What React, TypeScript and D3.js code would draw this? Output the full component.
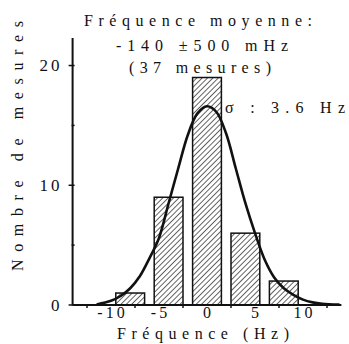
import React from "react";
import * as d3 from "d3";

const binCenters = [-8, -4, 0, 4, 8];
const counts = [1, 9, 19, 6, 2];
const binWidth = 3;

const fitX = [-11.5, -10, -9, -8, -7, -6, -5, -4, -3, -2, -1, 0, 1, 2, 3, 4, 5, 6, 7, 8, 9, 10, 11, 12, 13.8];
const fitY = [0.05, 0.35, 0.75, 1.4, 2.4, 3.9, 5.6, 8.5, 11.4, 14.2, 16.0, 16.6, 16.1, 14.3, 11.4, 8.5, 6.0, 3.8, 2.3, 1.4, 0.85, 0.45, 0.22, 0.1, 0.03];

const yTicks = [0, 10, 20];
const yMinor = [5, 15];
const xTickLabels = ["-10", "-5", "0", "5", "10"];
const xTickValues = [-10, -5, 0, 5, 10];
const xMinor = [-12.5, -7.5, -2.5, 2.5, 7.5, 12.5];

const titleLines = ["Fréquence moyenne:", "-140 ±500 mHz", "(37 mesures)"];
const sigmaLabel = "σ : 3.6 Hz";
const yTitle = "Nombre de mesures";
const xTitle = "Fréquence (Hz)";

export default function App() {
  const W = 349, H = 344;
  const x = d3.scaleLinear().domain([-14, 14]).range([72.6, 341.4]);
  const y = d3.scaleLinear().domain([0, 22.3]).range([305, 38]);
  const line = d3
    .line<number>()
    .x((_, i) => x(fitX[i]))
    .y((d) => y(d))
    .curve(d3.curveCatmullRom);
  const font = "'Liberation Serif', 'Times New Roman', serif";
  const titleCx = [198, 202, 200];
  const titleLen = [228, 172, 142];
  const titleY = [26, 51, 73];
  return (
    <svg width={W} height={H} style={{ position: "absolute", left: 0, top: 0, background: "#fff" }} fontFamily={font} fill="#111">
      <defs>
        <pattern id="hatch" patternUnits="userSpaceOnUse" width={3.8} height={3.8} patternTransform="rotate(45)">
          <line x1={0} y1={0} x2={0} y2={3.8} stroke="#111" strokeWidth={1.3} />
        </pattern>
      </defs>
      <rect x={0} y={0} width={W} height={H} fill="#fff" />
      {binCenters.map((c, i) => (
        <rect
          key={i}
          x={x(c - binWidth / 2)}
          y={y(counts[i])}
          width={x(c + binWidth / 2) - x(c - binWidth / 2)}
          height={y(0) - y(counts[i])}
          fill="url(#hatch)"
          stroke="#111"
          strokeWidth={1.5}
        />
      ))}
      <path d={line(fitY) || ""} fill="none" stroke="#111" strokeWidth={2.6} />
      <line x1={x(-14)} x2={x(-14)} y1={y(22.3)} y2={y(0)} stroke="#111" strokeWidth={2} />
      <line x1={x(-14)} x2={x(14)} y1={y(0)} y2={y(0)} stroke="#111" strokeWidth={2} />
      {yTicks.map((t) => (
        <g key={t}>
          <line x1={x(-14) - 4} x2={x(-14) + 2} y1={y(t)} y2={y(t)} stroke="#111" strokeWidth={1.5} />
          <text x={x(-14) - 10} y={y(t)} dy="0.35em" textAnchor="end" fontSize={17} letterSpacing={3}>
            {t}
          </text>
        </g>
      ))}
      {yMinor.map((t) => (
        <line key={t} x1={x(-14) - 1} x2={x(-14) + 2} y1={y(t)} y2={y(t)} stroke="#111" strokeWidth={1.5} />
      ))}
      {xMinor.map((t) => (
        <line key={t} x1={x(t)} x2={x(t)} y1={y(0)} y2={y(0) + 3} stroke="#111" strokeWidth={1.5} />
      ))}
      {xTickValues.map((t, i) => (
        <text key={t} x={x(t) + 1.5} y={318} textAnchor="middle" fontSize={16} letterSpacing={3}>
          {xTickLabels[i]}
        </text>
      ))}
      <text x={203} y={339} textAnchor="middle" fontSize={16} textLength={172} lengthAdjust="spacing">
        {xTitle}
      </text>
      <text
        transform="translate(23, 146) rotate(-90)"
        textAnchor="middle"
        fontSize={16}
        textLength={250}
        lengthAdjust="spacing"
      >
        {yTitle}
      </text>
      {titleLines.map((s, i) => (
        <text key={i} x={titleCx[i]} y={titleY[i]} textAnchor="middle" fontSize={16} textLength={titleLen[i]} lengthAdjust="spacing">
          {s}
        </text>
      ))}
      <text x={225} y={113} fontSize={16} textLength={120} lengthAdjust="spacing">
        {sigmaLabel}
      </text>
    </svg>
  );
}
